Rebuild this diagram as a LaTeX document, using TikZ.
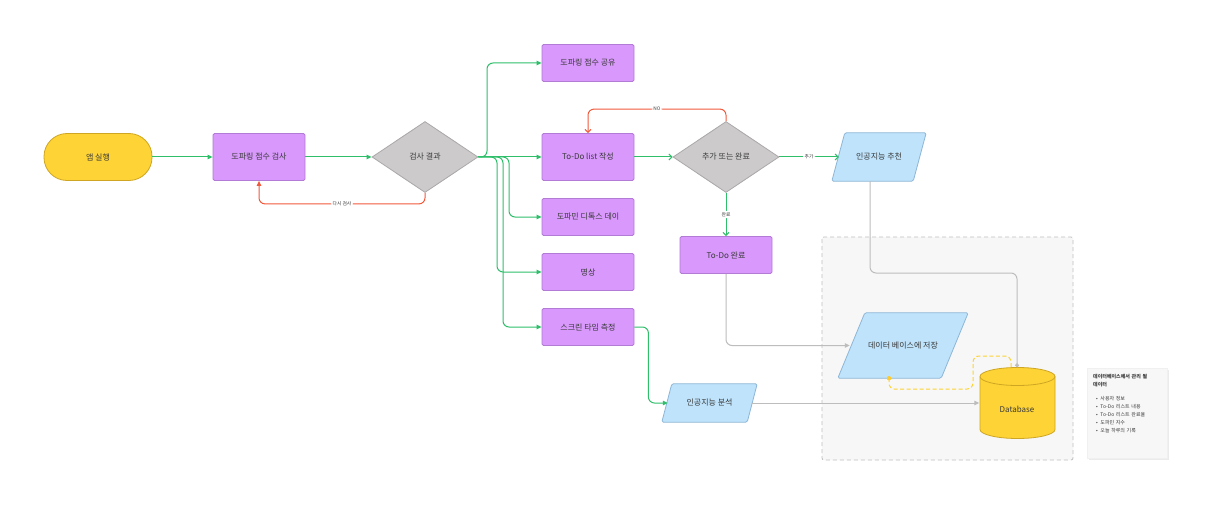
\documentclass[tikz,border=0pt]{standalone}
\usepackage{fontspec}
\setmainfont{Noto Sans CJK KR}
\usetikzlibrary{shapes.geometric,arrows.meta}
\definecolor{pfill}{HTML}{D898FC}
\definecolor{pborder}{HTML}{B27BD6}
\definecolor{gfill}{HTML}{CCCACA}
\definecolor{gborder}{HTML}{A9A7A7}
\definecolor{bfill}{HTML}{BEE3FB}
\definecolor{bborder}{HTML}{8DB6D6}
\definecolor{yfill}{HTML}{FDD336}
\definecolor{yborder}{HTML}{CFA623}
\definecolor{egreen}{HTML}{2FBF6B}
\definecolor{ered}{HTML}{F25A3C}
\definecolor{egray}{HTML}{BDBDBD}
\definecolor{txt}{HTML}{3A3A3A}
\definecolor{grpfill}{HTML}{F7F7F7}
\definecolor{grpline}{HTML}{BFBFBF}
\pgfdeclarelayer{bg}
\pgfsetlayers{bg,main}
\begin{document}
\begin{tikzpicture}[x=1pt,y=-1pt,
  every node/.style={text=txt},
  proc/.style={draw=pborder, fill=pfill, line width=0.8pt, minimum width=92pt, minimum height=37pt, rounded corners=1.5pt, inner sep=0pt, font=\fontsize{8}{9}\selectfont},
  dec/.style={diamond, draw=gborder, fill=gfill, line width=0.8pt, minimum width=106pt, minimum height=71pt, inner sep=0pt, font=\fontsize{8}{9}\selectfont},
  io/.style={inner sep=0pt, font=\fontsize{8}{9}\selectfont},
  iobox/.style={draw=bborder, fill=bfill, line width=0.8pt, rounded corners=1.5pt},
  gedge/.style={draw=egreen, line width=1pt, rounded corners=6pt, -{Triangle[length=5pt,width=4.5pt]}},
  gbarb/.style={draw=egreen, line width=1pt, rounded corners=6pt, -{Straight Barb[length=3pt,width=6pt]}},
  redge/.style={draw=ered, line width=1pt, rounded corners=6pt},
  grayedge/.style={draw=egray, line width=1pt, rounded corners=6pt},
  elab/.style={fill=white, font=\fontsize{4.8}{5}\selectfont, inner sep=1.5pt}
]
\useasboundingbox (0,0) rectangle (1216,508);

% background and group box
\begin{pgfonlayer}{bg}
\fill[white] (0,0) rectangle (1216,508);
\draw[draw=grpline, fill=grpfill, dashed, line width=0.8pt, dash pattern=on 4pt off 3pt, rounded corners=2pt] (822,237) rectangle (1073,460);
\end{pgfonlayer}

% nodes
\node[draw=yborder, fill=yfill, line width=0.8pt, rounded corners=23pt, minimum width=108pt, minimum height=47pt, font=\fontsize{8}{9}\selectfont] (app) at (98,157) {앱 실행};
\node[proc, minimum height=47pt] (check) at (259,157) {도파링 점수 검사};
\node[dec] (result) at (425,157) {검사 결과};
\node[proc] (share) at (588,63) {도파링 점수 공유};
\node[proc, minimum height=47pt] (todo) at (588,157) {To-Do list 작성};
\node[proc] (detox) at (588,217) {도파민 디톡스 데이};
\node[proc] (med) at (588,272) {명상};
\node[proc] (screen) at (588,327) {스크린 타임 측정};
\node[dec] (addfin) at (726,157) {추가 또는 완료};
\node[proc] (done) at (726,255) {To-Do 완료};

\node[io, minimum width=94pt, minimum height=48pt] (rec) at (879,157) {인공지능 추천};
\node[io, minimum width=130pt, minimum height=65pt] (save) at (903,345.5) {데이터 베이스에 저장};
\node[io, minimum width=95pt, minimum height=38pt] (anal) at (709.5,403) {인공지능 분석};
\begin{pgfonlayer}{bg}
\draw[iobox] ([xshift=13pt]rec.north west) -- (rec.north east) -- ([xshift=-13pt]rec.south east) -- (rec.south west) -- cycle;
\draw[iobox] ([xshift=27pt]save.north west) -- (save.north east) -- ([xshift=-27pt]save.south east) -- (save.south west) -- cycle;
\draw[iobox] ([xshift=10pt]anal.north west) -- (anal.north east) -- ([xshift=-10pt]anal.south east) -- (anal.south west) -- cycle;
\end{pgfonlayer}

% database cylinder
\node[minimum width=75pt, minimum height=71pt, inner sep=0pt] (db) at (1017,403) {};
\begin{pgfonlayer}{bg}
\draw[fill=yfill, draw=yborder, line width=0.8pt] (980,376.5) -- (980,429.5) arc[start angle=180, end angle=0, x radius=37.5, y radius=9] -- (1055,376.5) arc[start angle=0, end angle=-180, x radius=37.5, y radius=9] -- cycle;
\draw[draw=yborder, line width=0.8pt] (980,376.5) arc[start angle=180, end angle=0, x radius=37.5, y radius=9];
\end{pgfonlayer}
\node[font=\fontsize{8}{9}\selectfont] (dbl) at (1017,409.5) {Database};

% note
\fill[black!8] (1088.5,369.5) rectangle (1168.5,459.5);
\draw[draw=black!6, fill=white!97!black, line width=0.4pt] (1087,368) rectangle (1167,458);
\node[anchor=north west, text width=60pt, inner sep=0pt, font=\fontsize{5}{8}\selectfont, align=left] (note) at (1093,374) {{\bfseries 데이터베이스에서 관리 될 데이터}\\[6pt]
\hspace*{3pt}•\hspace{2.5pt}사용자 정보\\
\hspace*{3pt}•\hspace{2.5pt}To-Do 리스트 내용\\
\hspace*{3pt}•\hspace{2.5pt}To-Do 리스트 완료율\\
\hspace*{3pt}•\hspace{2.5pt}도파민 지수\\
\hspace*{3pt}•\hspace{2.5pt}오늘 하루의 기록};

% green edges
\draw[gedge] (app) -- (check);
\draw[gedge] (check) -- (result);
\draw[gedge] (result.east) -- (487,157) |- (share.west);
\draw[gedge] (result.east) -- (todo.west);
\draw[gedge] (result.east) -- (509,157) |- (detox.west);
\draw[gedge] (result.east) -- (497,157) |- (med.west);
\draw[gedge] (result.east) -- (503,157) |- (screen.west);
\draw[gbarb] (todo) -- (addfin);
\draw[gbarb] (addfin.east) -- node[elab] {추가} ([xshift=7pt]rec.west);
\draw[gbarb] (addfin.south) -- node[elab] {완료} (done.north);
\draw[gedge] (screen.east) -- ++(14,0) |- ([xshift=6pt]anal.west);

% red edges
\draw[redge, -{Triangle[length=5pt,width=4.5pt]}] (result.south) -- ++(0,11) -| node[elab, pos=0.25] {다시 검사} (check.south);
\draw[redge, -{Straight Barb[length=3pt,width=6pt]}] (addfin.north) -- ++(0,-12) -| node[elab, pos=0.25] {NO} (todo.north);

% gray edges
\draw[grayedge, -{Circle[length=4pt]}] ([xshift=-9pt]rec.south) |- (1017,273) -- (db.north);
\draw[grayedge, -{Triangle[length=5pt,width=4.5pt]}] (done.south) |- ([xshift=12pt]save.west);
\draw[grayedge, -{Triangle[length=5pt,width=4.5pt]}] ([xshift=-5pt]anal.east) -- (db.west);

% yellow dashed
\fill[yfill!90!orange] ([xshift=-14pt]save.south) circle (2.2pt);
\draw[draw=yfill, line width=1pt, dashed, dash pattern=on 4pt off 2.5pt, rounded corners=6pt] ([xshift=-14pt]save.south) -- ++(0,11) -- (973,389) -- (973,356) -- (1011,356) -- (1011,369);
\end{tikzpicture}
\end{document}
